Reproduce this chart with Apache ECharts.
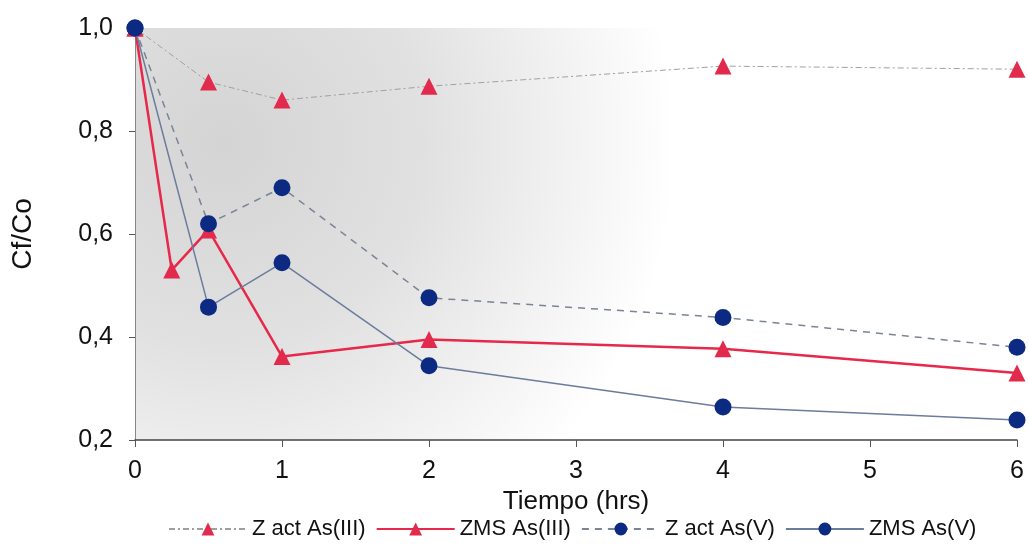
<!DOCTYPE html>
<html>
<head>
<meta charset="utf-8">
<script src="https://cdn.jsdelivr.net/npm/echarts@6/dist/echarts.min.js"></script>
<style>
html,body{margin:0;padding:0;background:#fff;}
#chart{width:1029px;height:544px;}
</style>
</head>
<body>
<div id="chart"></div>
<script>
var xTicks = [0, 1, 2, 3, 4, 5, 6];
var yTicks = [0.2, 0.4, 0.6, 0.8, 1.0];

var zActAs3_t = [0, 0.5, 1, 2, 4, 6];
var zActAs3_v = [1.0, 0.895, 0.86, 0.887, 0.926, 0.92];

var zmsAs3_t = [0, 0.25, 0.5, 1, 2, 4, 6];
var zmsAs3_v = [1.0, 0.53, 0.608, 0.362, 0.395, 0.377, 0.33];

var zActAs5_t = [0, 0.5, 1, 2, 4, 6];
var zActAs5_v = [1.0, 0.62, 0.69, 0.476, 0.438, 0.38];

var zmsAs5_t = [0, 0.5, 1, 2, 4, 6];
var zmsAs5_v = [1.0, 0.458, 0.544, 0.344, 0.264, 0.239];

function pairs(t, v){
    var out = [];
    for (var i = 0; i < t.length; i++) out.push([t[i], v[i]]);
    return out;
}

var myChart = echarts.init(document.getElementById('chart'));
var font = 'Liberation Sans, Arial, sans-serif';

myChart.setOption({
    animation: false,
    textStyle: {fontFamily: font},
    grid: {
        left: 135, right: 12, top: 28, bottom: 104,
        show: true,
        borderWidth: 0,
        // soft grey shading, darkest at upper left like the scanned original
        backgroundColor: {
            type: 'radial', x: 0.1, y: 0.28, r: 1.1,
            colorStops: [
                {offset: 0, color: '#d4d4d4'},
                {offset: 0.45, color: '#e1e1e1'},
                {offset: 0.8, color: '#f4f4f4'},
                {offset: 1, color: '#ffffff'}
            ]
        }
    },
    legend: {
        top: 513,
        left: 163,
        itemWidth: 78,
        itemHeight: 16,
        itemGap: 10,
        textStyle: {fontSize: 22, color: '#111', fontFamily: font},
        data: ['Z act As(III)', 'ZMS As(III)', 'Z act As(V)', 'ZMS As(V)']
    },
    xAxis: {
        type: 'value',
        min: 0, max: 6, interval: 1,
        name: 'Tiempo (hrs)',
        nameLocation: 'middle',
        nameGap: 38,
        nameTextStyle: {fontSize: 26, color: '#111', fontFamily: font},
        axisLine: {lineStyle: {color: '#444', width: 1.5}},
        axisTick: {show: true, length: 7, lineStyle: {color: '#555'}},
        axisLabel: {fontSize: 25, color: '#111', margin: 19, fontFamily: font},
        splitLine: {show: false}
    },
    yAxis: {
        type: 'value',
        min: 0.2, max: 1.0, interval: 0.2,
        name: 'Cf/Co',
        nameLocation: 'middle',
        nameGap: 98,
        nameTextStyle: {fontSize: 28, color: '#111', fontFamily: font},
        axisLine: {show: true, lineStyle: {color: '#888', width: 1}},
        axisTick: {show: true, length: 6, lineStyle: {color: '#555'}},
        axisLabel: {
            fontSize: 25, color: '#111', margin: 22, fontFamily: font,
            formatter: function(v){ return v.toFixed(1).replace('.', ','); }
        },
        splitLine: {show: false}
    },
    series: [
        {
            name: 'Z act As(III)',
            type: 'line',
            data: pairs(zActAs3_t, zActAs3_v),
            symbol: 'triangle',
            symbolSize: 17,
            itemStyle: {color: '#e22a4c'},
            lineStyle: {color: '#a0a0a0', width: 1, type: [6, 3, 2, 3]},
            z: 2
        },
        {
            name: 'ZMS As(III)',
            type: 'line',
            data: pairs(zmsAs3_t, zmsAs3_v),
            symbol: 'triangle',
            symbolSize: 17,
            itemStyle: {color: '#e22a4c'},
            lineStyle: {color: '#e8284a', width: 2.5},
            z: 3
        },
        {
            name: 'Z act As(V)',
            type: 'line',
            data: pairs(zActAs5_t, zActAs5_v),
            symbol: 'circle',
            symbolSize: 17,
            itemStyle: {color: '#0d2a82'},
            lineStyle: {color: '#7a8494', width: 1.5, type: [7, 6]},
            z: 4
        },
        {
            name: 'ZMS As(V)',
            type: 'line',
            data: pairs(zmsAs5_t, zmsAs5_v),
            symbol: 'circle',
            symbolSize: 17,
            itemStyle: {color: '#0d2a82'},
            lineStyle: {color: '#6b7c9c', width: 1.5},
            z: 5
        }
    ]
});
</script>
</body>
</html>
